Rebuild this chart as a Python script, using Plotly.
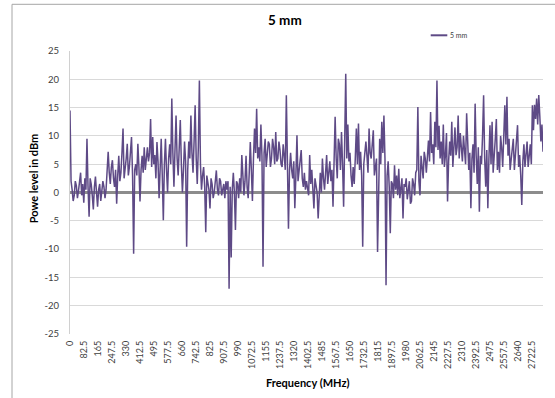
import plotly.graph_objects as go

# Spectrum sweep: received power every 6.25 MHz from 0 to 2787.5 MHz
FREQ_STEP_MHZ = 6.25

power_dbm = [
    14.5, 2.0, 0.5, -1.5, -0.5, 2.0, 1.2, -1.0, 0.3, 1.5, 3.5, -0.5, 1.5, -1.8, 2.5, 0.5, 9.5, 1.0, -4.3, 2.5,
    1.5, -0.5, -3.0, 1.0, 2.8, 0.0, -2.5, 0.5, 1.5, -1.5, 0.0, 2.0, 1.0, -1.0, 0.5, 3.0, 7.2, 3.5, 1.5, 4.5,
    5.7, 2.5, 1.0, 4.0, -2.0, 3.0, 6.5, 2.0, 3.5, 7.0, 11.3, 2.5, 4.0, 6.0, 8.6, 3.0, 4.5, 7.5, 9.8, 3.0,
    -10.8, 4.0, 5.0, 3.0, 8.6, 4.5, -1.6, 4.0, 6.5, 3.5, 8.0, 4.0, 5.5, 8.0, 5.5, 7.0, 13.0, 4.5, 9.8, 5.0,
    6.6, 2.5, 8.9, 5.5, -1.0, 6.0, 9.5, 3.0, -4.9, 5.0, 9.5, 4.0, 0.0, 6.0, 8.5, 5.0, 16.6, 7.0, 1.0, 7.5,
    13.6, 6.0, 3.0, 8.0, 12.8, 5.0, 0.0, 4.0, 9.0, 5.5, -9.6, 4.0, 9.0, 6.0, 13.6, 7.0, 3.5, 9.0, 15.4, 6.0,
    1.5, 8.0, 19.8, 5.0, 0.5, 3.0, 4.5, 1.0, -7.0, 3.0, 2.0, 0.5, -2.8, 2.5, 1.5, -1.0, 0.0, 1.5, 3.9, 0.5,
    -0.5, 2.5, 2.0, -0.5, 0.5, 1.5, -1.0, 2.0, 0.5, 2.0, -17.0, 1.0, -11.5, 0.5, 3.5, 0.0, -6.6, 2.0, 1.5, -1.0,
    2.5, 0.0, 6.6, 1.5, -0.5, 2.0, 6.5, 1.0, -1.0, 3.5, 8.9, 4.0, -1.5, 6.0, 11.3, 7.0, 14.8, 6.0, 8.0, 5.5,
    12.0, 6.5, -13.1, 7.0, 9.5, 4.5, 6.5, 9.0, 8.5, 4.5, 6.0, 9.5, 8.0, 5.0, 10.7, 5.5, 6.0, 9.0, 7.5, 5.0,
    4.5, 8.5, 6.5, 4.0, 17.2, 5.0, -6.4, 4.0, 7.0, 4.0, 2.5, 5.5, -2.8, 3.0, 10.1, 2.0, 3.5, 5.5, 7.5, 2.5,
    1.0, 3.5, 0.5, 2.0, 1.0, -0.5, 6.6, 1.5, 4.0, 0.5, -2.8, 2.5, 1.0, 0.0, -4.6, 1.5, 3.5, 0.0, 6.0, 2.5,
    0.5, 3.5, 6.6, 1.5, 3.5, 5.5, 2.0, 4.0, -2.5, 5.0, 13.4, 6.0, 2.5, 9.5, 8.5, 4.0, 10.7, 5.0, -2.5, 9.0,
    21.0, 6.0, 12.0, 5.5, 7.0, 3.0, 1.0, 4.5, 1.5, 6.0, 11.3, 5.0, 12.2, 4.0, 7.2, 3.0, -9.6, 5.0, 7.5, 9.0,
    6.5, 3.5, 11.3, 7.0, 6.0, 9.0, 11.0, 3.0, 5.0, 6.0, -10.5, 4.0, 9.5, 5.0, 12.5, 7.0, 13.6, 6.0, -16.4, 3.0,
    5.5, 1.0, -7.2, 2.0, 1.5, -1.0, 4.8, 0.5, 3.0, -0.5, 4.2, -1.0, 1.5, 2.5, -4.6, 1.5, 1.0, 2.5, -1.2, 1.0,
    2.0, -2.0, -1.5, 2.5, 1.5, -0.5, 3.5, 4.0, 15.1, 2.0, -0.5, 6.5, 5.0, 2.5, 7.2, 6.0, 3.5, 6.0, 9.2, 5.5,
    14.2, 7.0, 8.5, 5.0, 12.5, 8.0, 19.8, 7.5, 11.8, 6.0, 9.0, 5.0, 12.0, 4.5, 6.6, 10.5, -1.6, 5.5, 9.0, 6.5,
    12.5, 4.5, 9.0, 11.5, 6.6, 8.0, 13.6, 6.0, 10.5, 8.5, 5.5, 10.0, 7.0, 5.0, 14.0, 8.0, 4.0, 7.0, -2.8, 6.0,
    8.5, 3.5, 15.7, 6.5, 1.5, 8.0, -3.4, 6.5, 5.0, 10.0, 17.2, 6.0, 1.0, 7.5, -2.8, 6.0, 11.9, 5.0, 12.5, 3.5,
    6.0, 9.5, 13.0, 4.0, 7.2, 3.5, 10.0, 8.0, 4.5, 9.0, 15.4, 8.5, 16.9, 6.5, 9.5, 4.0, 5.5, 8.0, 9.5, 4.0,
    6.5, 9.0, 11.9, 4.5, 6.6, 3.0, -2.2, 5.5, 8.5, 4.5, 7.5, 9.0, 4.5, 6.5, 8.5, 5.0, 15.4, 11.0, 15.5, 13.0,
    16.6, 12.0, 17.2, 13.5, 9.0, 12.0,
    7.2,
]

freq_mhz = [i * FREQ_STEP_MHZ for i in range(len(power_dbm))]

x_tick_labels = [
    "0", "82.5", "165", "247.5", "330", "412.5", "495", "577.5", "660",
    "742.5", "825", "907.5", "990", "1072.5", "1155", "1237.5", "1320",
    "1402.5", "1485", "1567.5", "1650", "1732.5", "1815", "1897.5", "1980",
    "2062.5", "2145", "2227.5", "2310", "2392.5", "2475", "2557.5", "2640",
    "2722.5",
]
x_tick_values = [float(t) for t in x_tick_labels]

y_tick_values = [25, 20, 15, 10, 5, 0, -5, -10, -15, -20, -25]
y_tick_labels = ["25", "20", "15", "10", "5", "0", "-5", "-10", "-15", "-20", "-25"]

series_name = "5 mm"
line_color = "#5E4A86"
text_color = "#404040"
font_family = "Lato, 'Open Sans', sans-serif"

fig = go.Figure()
fig.add_trace(go.Scatter(
    x=freq_mhz,
    y=power_dbm,
    mode="lines",
    name=series_name,
    line=dict(color=line_color, width=1.5),
    showlegend=False,
))

# Plot area spans pixels 70..543 horizontally and 51..334 vertically
L, R, T, B, W, H = 70, 543, 51, 334, 555, 398
pw, ph = R - L, B - T


def px(x):
    return (x - L) / pw


def py(y):
    return (B - y) / ph


fig.update_layout(
    width=W,
    height=H,
    autosize=False,
    margin=dict(l=L, r=W - R, t=T, b=H - B, pad=0),
    paper_bgcolor="white",
    plot_bgcolor="white",
    font=dict(family=font_family, color=text_color),
    xaxis=dict(
        range=[0, freq_mhz[-1]],
        tickvals=x_tick_values,
        ticktext=x_tick_labels,
        tickangle=-90,
        tickfont=dict(size=9, color=text_color),
        showgrid=False,
        zeroline=False,
        showline=False,
        ticks="",
        ticklabelstandoff=4,
        automargin=False,
    ),
    yaxis=dict(
        range=[-25, 25],
        tickvals=y_tick_values,
        ticktext=y_tick_labels,
        tickfont=dict(size=9.5, color=text_color),
        showgrid=True,
        gridcolor="#D9D9D9",
        gridwidth=1,
        zeroline=True,
        zerolinecolor="#8C8C8C",
        zerolinewidth=3,
        showline=True,
        linecolor="#D0D0D0",
        linewidth=1,
        ticks="",
        ticklabelstandoff=8,
        automargin=False,
    ),
    shapes=[
        # chart area border
        dict(type="rect", xref="paper", yref="paper",
             x0=px(12), x1=px(W + 20), y0=py(H + 20), y1=py(4.3),
             line=dict(color="#A6A6A6", width=1), fillcolor="rgba(0,0,0,0)",
             layer="below"),
        # legend key
        dict(type="line", xref="paper", yref="paper",
             x0=px(430.7), x1=px(447.3), y0=py(35.3), y1=py(35.3),
             line=dict(color=line_color, width=2)),
    ],
    annotations=[
        dict(text="<b>5 mm</b>", xref="paper", yref="paper",
             x=px(284.5), y=py(19.5), xanchor="center", yanchor="middle",
             showarrow=False, font=dict(size=13.5, color="#000000")),
        dict(text=series_name, xref="paper", yref="paper",
             x=px(448.3), y=py(35.3), xanchor="left", yanchor="middle",
             showarrow=False, font=dict(size=7, color=text_color)),
        dict(text="<b>Powe level in dBm</b>", xref="paper", yref="paper",
             x=px(33.3), y=py(178), xanchor="center", yanchor="middle",
             textangle=-90, showarrow=False,
             font=dict(size=11, color="#000000")),
        dict(text="<b>Frequency (MHz)</b>", xref="paper", yref="paper",
             x=px(307), y=py(382), xanchor="center", yanchor="middle",
             showarrow=False, font=dict(size=11, color="#000000")),
    ],
)

fig.write_html("out.html")
